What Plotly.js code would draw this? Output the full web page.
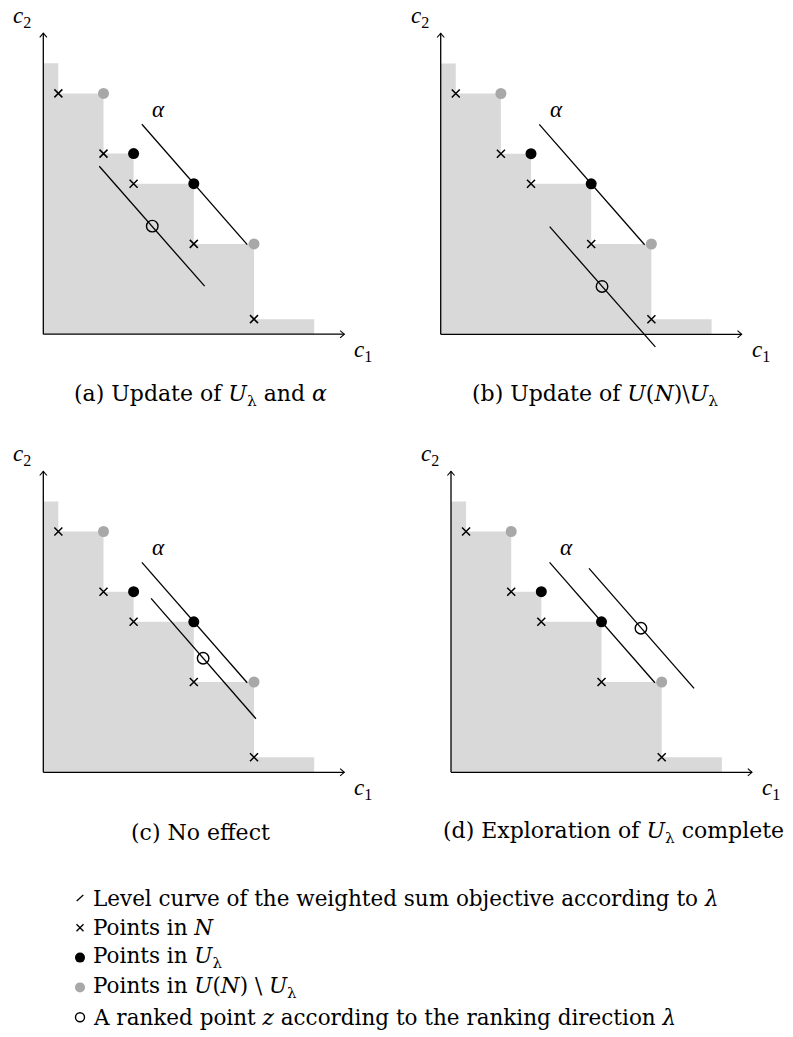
<!DOCTYPE html>
<html>
<head>
<meta charset="utf-8">
<script src="https://cdn.plot.ly/plotly-3.0.1.min.js"></script>
<style>
  html, body { margin: 0; padding: 0; background: #ffffff; }
  #chart { width: 793px; height: 1037px; }
</style>
</head>
<body>
<div id="chart"></div>
<script>
// Non-dominated points N
const pointsN_c1 = [1, 4, 6, 10, 14];
const pointsN_c2 = [16, 12, 10, 6, 1];
// Local upper bounds in U_lambda
const uLambda_c1 = [6, 10];
const uLambda_c2 = [12, 10];
// Remaining local upper bounds U(N) \ U_lambda
const uOther_c1 = [4, 14];
const uOther_c2 = [16, 6];
// Dominated region (staircase)
const region_c1 = [0, 0, 1, 1, 4, 4, 6, 6, 10, 10, 14, 14, 18, 18];
const region_c2 = [0, 18, 18, 16, 16, 12, 12, 10, 10, 6, 6, 1, 1, 0];
// Level curve alpha (same in every panel)
const alpha_c1 = [6.55, 13.55];
const alpha_c2 = [13.95, 5.95];
// Second level curve, one per panel (a)-(d)
const level_c1 = [[3.72, 10.72], [7.24, 14.26], [7.16, 14.13], [9.17, 16.15]];
const level_c2 = [[11.16, 3.19], [7.15, -0.84], [11.56, 3.56], [13.55, 5.58]];
// Ranked point z, one per panel (a)-(d)
const ranked_c1 = [7.24, 10.72, 10.62, 12.62];
const ranked_c2 = [7.18, 3.18, 7.58, 9.57];
// Axis length
const AXIS_END = 20;
// Captions
const captions = [
  '(a) Update of <i>U</i><sub>λ</sub> and <i>α</i>',
  '(b) Update of <i>U</i>(<i>N</i>)\\<i>U</i><sub>λ</sub>',
  '(c) No effect',
  '(d) Exploration of <i>U</i><sub>λ</sub> complete'
];
// Legend entries
const legendTexts = [
  'Level curve of the weighted sum objective according to <i>λ</i>',
  'Points in <i>N</i>',
  'Points in <i>U</i><sub>λ</sub>',
  'Points in <i>U</i>(<i>N</i>) \\ <i>U</i><sub>λ</sub>',
  'A ranked point <i>z</i> according to the ranking direction <i>λ</i>'
];

const W = 793, H = 1037;
const UNIT = 15.05;             // pixels per unit
const XMIN = -2.5, XMAX = 22.5, YMIN = -2.5, YMAX = 21.8;
// panel origins in pixels
const origins = [[43.3, 334.2], [440.7, 334.3], [43.3, 772.3], [451.0, 772.3]];
const capPos = [[200, 395], [595, 395], [200, 832], [613, 832]];

const FONT = 'DejaVu Serif';
const MATH_FONT = 'Liberation Serif';
const GRAY_FILL = '#d9d9d9';
const GRAY_DOT = '#a8a8a8';
const BLACK = '#000000';

// arrow head size in axis units
const HEAD_BACK = 4.2 / UNIT, HEAD_HALF = 3.6 / UNIT;

const traces = [];
const layout = {
  width: W, height: H,
  margin: {l: 0, r: 0, t: 0, b: 0},
  paper_bgcolor: '#ffffff', plot_bgcolor: 'rgba(0,0,0,0)',
  showlegend: false,
  font: {family: FONT, size: 18, color: BLACK},
  annotations: []
};

function hiddenAxis(extra) {
  return Object.assign({visible: false, showgrid: false, zeroline: false, fixedrange: true}, extra);
}

function line(x, y, xa, ya, w) {
  return {x: x, y: y, xaxis: xa, yaxis: ya, type: 'scatter', mode: 'lines',
    line: {color: BLACK, width: w, simplify: false}, hoverinfo: 'skip', cliponaxis: false};
}

origins.forEach(([ox, oy], i) => {
  const s = i === 0 ? '' : String(i + 1);
  const xa = 'x' + s, ya = 'y' + s;
  layout['xaxis' + s] = hiddenAxis({
    range: [XMIN, XMAX],
    domain: [(ox + XMIN * UNIT) / W, (ox + XMAX * UNIT) / W],
    anchor: ya
  });
  layout['yaxis' + s] = hiddenAxis({
    range: [YMIN, YMAX],
    domain: [1 - (oy - YMIN * UNIT) / H, 1 - (oy - YMAX * UNIT) / H],
    anchor: xa
  });

  // dominated region
  traces.push({x: region_c1, y: region_c2, xaxis: xa, yaxis: ya, type: 'scatter', mode: 'lines',
    fill: 'toself', fillcolor: GRAY_FILL, line: {width: 0, color: GRAY_FILL}, hoverinfo: 'skip'});

  // axes with arrow heads
  traces.push(line([0, AXIS_END], [0, 0], xa, ya, 1.3));
  traces.push(line([0, 0], [0, AXIS_END], xa, ya, 1.3));
  traces.push(line([AXIS_END - HEAD_BACK, AXIS_END, AXIS_END - HEAD_BACK],
                   [HEAD_HALF, 0, -HEAD_HALF], xa, ya, 1.1));
  traces.push(line([-HEAD_HALF, 0, HEAD_HALF],
                   [AXIS_END - HEAD_BACK, AXIS_END, AXIS_END - HEAD_BACK], xa, ya, 1.1));

  // level curves
  traces.push(line(alpha_c1, alpha_c2, xa, ya, 1.3));
  traces.push(line(level_c1[i], level_c2[i], xa, ya, 1.3));

  // points in N
  traces.push({x: pointsN_c1, y: pointsN_c2, xaxis: xa, yaxis: ya, type: 'scatter', mode: 'markers',
    marker: {symbol: 'x-thin', size: 8, color: BLACK, line: {width: 1.5, color: BLACK}}, hoverinfo: 'skip'});
  // U(N) \ U_lambda
  traces.push({x: uOther_c1, y: uOther_c2, xaxis: xa, yaxis: ya, type: 'scatter', mode: 'markers',
    marker: {symbol: 'circle', size: 11, color: GRAY_DOT}, hoverinfo: 'skip'});
  // U_lambda
  traces.push({x: uLambda_c1, y: uLambda_c2, xaxis: xa, yaxis: ya, type: 'scatter', mode: 'markers',
    marker: {symbol: 'circle', size: 11, color: BLACK}, hoverinfo: 'skip'});
  // ranked point z
  traces.push({x: [ranked_c1[i]], y: [ranked_c2[i]], xaxis: xa, yaxis: ya, type: 'scatter', mode: 'markers',
    marker: {symbol: 'circle-open', size: 11.5, color: BLACK, line: {width: 1.4, color: BLACK}}, hoverinfo: 'skip'});

  // axis labels and alpha
  const lab = {xref: xa, yref: ya, showarrow: false, xanchor: 'center', yanchor: 'middle',
    font: {family: MATH_FONT, size: 23, color: BLACK}};
  layout.annotations.push(Object.assign({}, lab, {x: 21.25, y: -1.1, text: '<i>c</i><sub>1</sub>'}));
  layout.annotations.push(Object.assign({}, lab, {x: -1.4, y: 21.1, text: '<i>c</i><sub>2</sub>'}));
  layout.annotations.push(Object.assign({}, lab, {x: 7.68, y: 14.95, text: '<i>α</i>'}));

  // caption
  layout.annotations.push({xref: 'paper', yref: 'paper', x: capPos[i][0] / W, y: 1 - capPos[i][1] / H,
    xanchor: 'center', yanchor: 'middle', showarrow: false, text: captions[i],
    font: {family: FONT, size: 22, color: BLACK}});
});

// Legend area drawn in a pixel-based overlay axis
layout.xaxis5 = hiddenAxis({range: [0, W], domain: [0, 1], anchor: 'y5'});
layout.yaxis5 = hiddenAxis({range: [H, 0], domain: [0, 1], anchor: 'x5'});
const LEG_X = 80, LEG_Y0 = 898, LEG_DY = 29.8, LEG_TX = 91;
const legY = legendTexts.map((_, k) => LEG_Y0 + k * LEG_DY);

traces.push(line([LEG_X - 3.3, LEG_X + 3.3], [legY[0] + 3, legY[0] - 3], 'x5', 'y5', 1.3));
traces.push({x: [LEG_X], y: [legY[1]], xaxis: 'x5', yaxis: 'y5', type: 'scatter', mode: 'markers',
  marker: {symbol: 'x-thin', size: 7, color: BLACK, line: {width: 1.4, color: BLACK}}, hoverinfo: 'skip'});
traces.push({x: [LEG_X], y: [legY[2]], xaxis: 'x5', yaxis: 'y5', type: 'scatter', mode: 'markers',
  marker: {symbol: 'circle', size: 10, color: BLACK}, hoverinfo: 'skip'});
traces.push({x: [LEG_X], y: [legY[3]], xaxis: 'x5', yaxis: 'y5', type: 'scatter', mode: 'markers',
  marker: {symbol: 'circle', size: 10, color: GRAY_DOT}, hoverinfo: 'skip'});
traces.push({x: [LEG_X], y: [legY[4]], xaxis: 'x5', yaxis: 'y5', type: 'scatter', mode: 'markers',
  marker: {symbol: 'circle-open', size: 9, color: BLACK, line: {width: 1.4, color: BLACK}}, hoverinfo: 'skip'});

legendTexts.forEach((t, k) => {
  layout.annotations.push({xref: 'paper', yref: 'paper', x: LEG_TX / W, y: 1 - legY[k] / H,
    xanchor: 'left', yanchor: 'middle', showarrow: false, text: t,
    font: {family: FONT, size: 21.5, color: BLACK}});
});

Plotly.newPlot('chart', traces, layout, {staticPlot: true, displayModeBar: false});
</script>
</body>
</html>
